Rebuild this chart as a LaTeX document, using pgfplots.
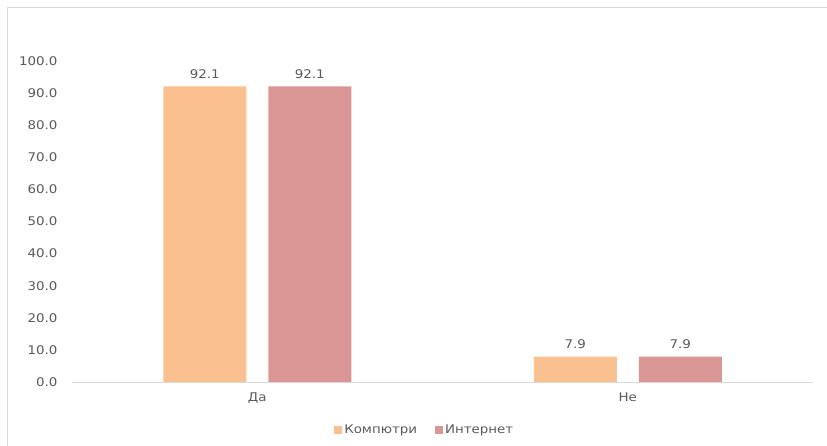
\documentclass[border=0pt]{standalone}
\usepackage{fontspec}
\setmainfont{DejaVu Sans}[FakeStretch=1.12]
\usepackage{pgfplots}
\pgfplotsset{compat=1.18}
\definecolor{komp}{HTML}{FAC090}
\definecolor{inet}{HTML}{D99694}
\definecolor{txt}{HTML}{595959}
\definecolor{axln}{HTML}{D9D9D9}
\begin{document}
\begin{tikzpicture}
\path[use as bounding box] (0,0) rectangle (827bp,446bp);
% chart frame (left and top edges)
\draw[axln, line width=1bp] (7bp,0) -- (7bp,438bp) -- (827bp,438bp);
\begin{axis}[
  at={(72bp,64bp)}, anchor=south west,
  scale only axis, width=741bp, height=321bp,
  xmin=-0.5, xmax=1.5, ymin=0, ymax=100,
  ytick={0,10,...,100},
  xtick={0,1}, xticklabels={Да,Не},
  axis x line=bottom, axis y line=left,
  x axis line style={axln, line width=1bp, -},
  y axis line style={draw=none},
  major tick length=0pt,
  tick label style={font=\fontsize{12}{14}\selectfont, text=txt},
  yticklabel style={xshift=-11bp, /pgf/number format/.cd, fixed, fixed zerofill, precision=1},
  xticklabel style={yshift=-7bp},
  /pgf/number format/assume math mode=true,
  ybar, bar width=83bp,
  nodes near coords,
  every node near coord/.append style={font=\fontsize{12}{14}\selectfont, text=txt, yshift=4bp,
    /pgf/number format/.cd, fixed, fixed zerofill, precision=1},
  legend columns=2,
  legend style={at={(0.476,-0.1495)}, anchor=center, draw=none, fill=none,
    font=\fontsize{12}{14}\selectfont, text=txt,
    /tikz/every even column/.append style={column sep=16bp}},
  legend image code/.code={\fill[#1] (-3bp,-4bp) rectangle (5bp,4bp);},
]
\addplot[fill=komp, draw=none, bar shift=-52.5bp] coordinates {(0,92.1) (1,7.9)};
\addplot[fill=inet, draw=none, bar shift=52.5bp] coordinates {(0,92.1) (1,7.9)};
\legend{Компютри, Интернет}
\end{axis}
\end{tikzpicture}
\end{document}
